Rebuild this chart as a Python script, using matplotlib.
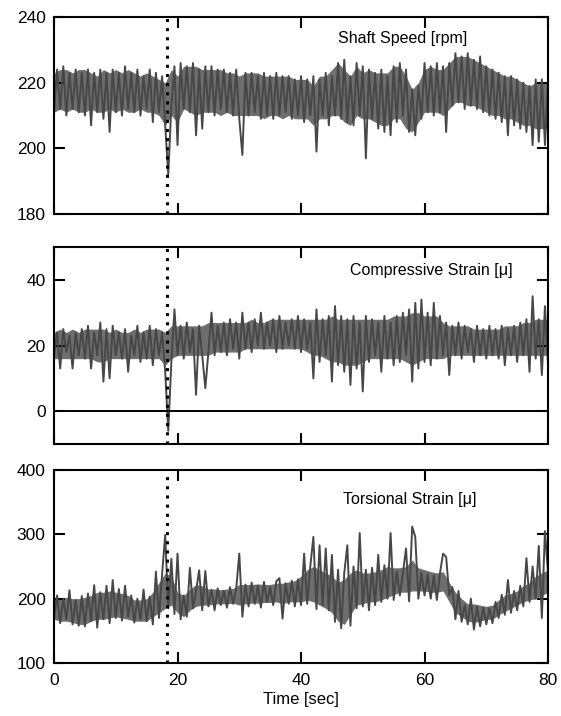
import numpy as np
import matplotlib.pyplot as plt

# trace samples, one every 0.5 s from 0 to 80 s
shaft_speed = [
    211, 224, 212, 225, 210, 223, 212, 224, 211, 223,
    210, 224, 207, 223, 211, 224, 209, 223, 205, 224,
    211, 223, 210, 225, 212, 223, 211, 224, 210, 222,
    212, 224, 208, 223, 211, 222, 207, 192, 213, 225,
    201, 226, 212, 225, 211, 226, 204, 224, 206, 225,
    211, 225, 210, 224, 212, 224, 211, 223, 210, 224,
    209, 198, 223, 210, 223, 211, 222, 209, 223, 210,
    222, 209, 223, 210, 222, 211, 222, 209, 221, 210,
    222, 208, 221, 210, 222, 199, 221, 210, 223, 207,
    222, 210, 226, 209, 227, 208, 222, 207, 226, 210,
    225, 197, 224, 209, 223, 206, 224, 205, 222, 204,
    225, 208, 226, 210, 224, 205, 218, 204, 219, 209,
    226, 211, 225, 210, 226, 211, 225, 205, 226, 213,
    229, 214, 228, 212, 229, 213, 227, 212, 228, 211,
    225, 210, 224, 209, 223, 208, 222, 204, 222, 207,
    221, 206, 220, 205, 219, 201, 221, 202, 221, 201,
    220,
]

compressive_strain = [
    17, 24, 13, 25, 18, 23, 13, 24, 17, 25,
    16, 26, 13, 24, 17, 27, 9, 25, 10, 26,
    17, 24, 16, 25, 12, 23, 17, 26, 15, 24,
    16, 26, 14, 25, 17, 24, 12, -6, 15, 31,
    17, 26, 16, 27, 18, 25, 5, 26, 17, 7,
    18, 30, 17, 26, 18, 27, 17, 28, 19, 27,
    16, 30, 19, 27, 18, 28, 20, 30, 19, 27,
    20, 28, 18, 29, 19, 27, 20, 28, 19, 29,
    18, 28, 19, 27, 10, 31, 15, 28, 17, 29,
    9, 32, 14, 29, 12, 28, 8, 29, 13, 27,
    6, 29, 15, 28, 17, 27, 12, 29, 16, 27,
    14, 29, 15, 30, 17, 31, 9, 33, 13, 34,
    15, 30, 14, 33, 16, 29, 17, 27, 11, 26,
    17, 27, 16, 26, 18, 25, 15, 26, 17, 25,
    16, 26, 17, 25, 16, 26, 14, 25, 17, 26,
    15, 27, 17, 28, 12, 35, 16, 28, 11, 32,
    14,
]

torsional_strain = [
    170, 205, 162, 200, 168, 213, 160, 198, 158, 204,
    157, 208, 165, 221, 155, 210, 168, 220, 162, 229,
    170, 215, 166, 220, 172, 205, 163, 200, 168, 214,
    165, 203, 160, 242, 170, 238, 299, 185, 262, 176,
    270, 168, 205, 172, 248, 185, 212, 244, 182, 243,
    188, 214, 182, 216, 190, 212, 186, 218, 192, 215,
    270, 172, 222, 188, 225, 192, 220, 186, 226, 195,
    218, 190, 227, 232, 169, 224, 192, 228, 188, 230,
    190, 270, 192, 250, 296, 184, 283, 190, 278, 182,
    268, 164, 245, 154, 240, 283, 158, 250, 185, 302,
    188, 245, 182, 248, 190, 268, 195, 252, 200, 302,
    198, 242, 205, 240, 278, 196, 312, 296, 200, 240,
    205, 238, 200, 236, 198, 240, 270, 265, 205, 218,
    168, 212, 164, 190, 160, 200, 152, 188, 157, 186,
    160, 185, 162, 195, 170, 206, 175, 229, 178, 212,
    182, 220, 188, 263, 195, 250, 200, 282, 170, 305,
    240,
]

# upper / lower edge of the dense noise band, one value per second (0..80 s)
speed_upper = [
    223, 224, 224, 223, 224, 224, 223, 222, 224, 223,
    224, 223, 224, 223, 222, 223, 222, 221, 220, 224,
    222, 225, 225, 225, 224, 224, 224, 224, 223, 223,
    222, 223, 223, 223, 222, 222, 222, 222, 222, 221,
    221, 221, 219, 222, 222, 224, 226, 224, 222, 225,
    223, 224, 223, 223, 223, 225, 225, 222, 218, 220,
    224, 225, 224, 224, 226, 228, 228, 228, 227, 226,
    225, 224, 223, 222, 222, 221, 220, 219, 220, 220,
    220,
]
speed_lower = [
    211, 212, 211, 212, 211, 211, 212, 211, 211, 212,
    211, 212, 211, 211, 212, 211, 211, 210, 207, 210,
    208, 212, 211, 210, 211, 211, 211, 210, 211, 210,
    210, 210, 210, 210, 209, 210, 210, 209, 210, 209,
    209, 209, 207, 209, 209, 210, 210, 208, 207, 210,
    209, 209, 208, 207, 207, 209, 209, 206, 205, 208,
    211, 211, 211, 210, 212, 214, 214, 213, 213, 212,
    211, 210, 210, 209, 209, 208, 207, 207, 206, 206,
    206,
]

compressive_upper = [
    24, 25, 24, 25, 24, 25, 25, 25, 25, 24,
    25, 24, 24, 25, 24, 25, 25, 25, 24, 26,
    26, 26, 26, 26, 26, 27, 27, 27, 27, 27,
    27, 27, 28, 27, 27, 28, 28, 28, 28, 28,
    28, 28, 28, 28, 28, 29, 28, 28, 28, 28,
    28, 28, 28, 28, 28, 29, 29, 29, 30, 30,
    29, 29, 29, 27, 26, 26, 26, 26, 25, 25,
    25, 25, 25, 26, 26, 26, 27, 27, 28, 28,
    28,
]
compressive_lower = [
    16, 16, 16, 16, 16, 16, 16, 15, 15, 16,
    16, 16, 16, 16, 16, 16, 16, 16, 14, 16,
    17, 17, 17, 17, 17, 17, 18, 18, 18, 18,
    18, 19, 19, 19, 19, 19, 19, 19, 19, 19,
    19, 18, 17, 17, 16, 15, 15, 14, 14, 14,
    15, 16, 16, 16, 16, 16, 16, 15, 14, 15,
    16, 16, 16, 16, 17, 17, 17, 17, 17, 17,
    17, 17, 17, 17, 17, 17, 17, 17, 17, 17,
    17,
]

torsional_upper = [
    200, 200, 202, 200, 200, 202, 205, 210, 210, 212,
    210, 208, 205, 198, 198, 200, 210, 225, 240, 235,
    210, 205, 215, 222, 220, 215, 215, 214, 215, 216,
    222, 222, 222, 223, 222, 222, 224, 224, 226, 228,
    235, 245, 250, 245, 240, 235, 225, 230, 240, 245,
    240, 240, 242, 245, 250, 248, 248, 250, 260, 248,
    245, 242, 240, 242, 225, 210, 200, 192, 192, 190,
    188, 190, 198, 205, 208, 212, 220, 225, 235, 240,
    245,
]
torsional_lower = [
    168, 165, 165, 163, 160, 160, 165, 168, 168, 170,
    172, 170, 168, 165, 165, 165, 172, 178, 185, 190,
    178, 172, 182, 188, 190, 190, 192, 192, 192, 193,
    190, 192, 193, 193, 194, 194, 195, 192, 195, 195,
    195, 198, 195, 190, 185, 178, 165, 160, 175, 190,
    192, 195, 195, 198, 202, 206, 210, 210, 212, 212,
    212, 210, 210, 212, 195, 178, 172, 165, 163, 165,
    168, 168, 175, 180, 185, 190, 195, 198, 200, 205,
    210,
]

time = np.linspace(0, 80, len(shaft_speed))
time_band = np.linspace(0, 80, len(speed_upper))
event_time = 18.3
x_ticks = [0, 20, 40, 60, 80]

plt.rcParams['font.family'] = ['Liberation Sans', 'DejaVu Sans']

fig = plt.figure(figsize=(5.61, 7.16), dpi=100)

panels = [
    (shaft_speed, speed_lower, speed_upper, (180, 240), [180, 200, 220, 240],
     'Shaft Speed [rpm]', (0.706, 0.893), [0.0963, 0.7011, 0.8806, 0.2751]),
    (compressive_strain, compressive_lower, compressive_upper, (-10, 50), [0, 20, 40],
     'Compressive Strain [\u03bc]', (0.763, 0.883), [0.0963, 0.3799, 0.8806, 0.2751]),
    (torsional_strain, torsional_lower, torsional_upper, (100, 400), [100, 200, 300, 400],
     'Torsional Strain [\u03bc]', (0.72, 0.845), [0.0963, 0.0740, 0.8806, 0.2696]),
]

for k, (values, lower, upper, ylim, yticks, label, label_pos, rect) in enumerate(panels):
    ax = fig.add_axes(rect)
    ax.fill_between(time_band, lower, upper, color='#6e6e6e', lw=0)
    ax.plot(time, values, color='#474747', lw=1.4)
    ax.axvline(event_time, color='black', lw=2.2, ls=(0, (1, 2.0)))
    if k == 1:
        ax.axhline(0, color='black', lw=1.4)
    ax.set_xlim(0, 80)
    ax.set_ylim(*ylim)
    ax.set_xticks(x_ticks)
    ax.set_yticks(yticks)
    ax.tick_params(direction='in', length=8, width=1.5, top=True, right=True,
                   labelsize=12.5, pad=6)
    ax.tick_params(axis='x', pad=7)
    for sp in ax.spines.values():
        sp.set_linewidth(1.5)
    ax.text(label_pos[0], label_pos[1], label, transform=ax.transAxes,
            ha='center', va='center', fontsize=11.5)
    if k < 2:
        ax.set_xticklabels([])
    else:
        ax.set_xlabel('Time [sec]', fontsize=12, labelpad=3)

fig.savefig('out.png', dpi=100)
